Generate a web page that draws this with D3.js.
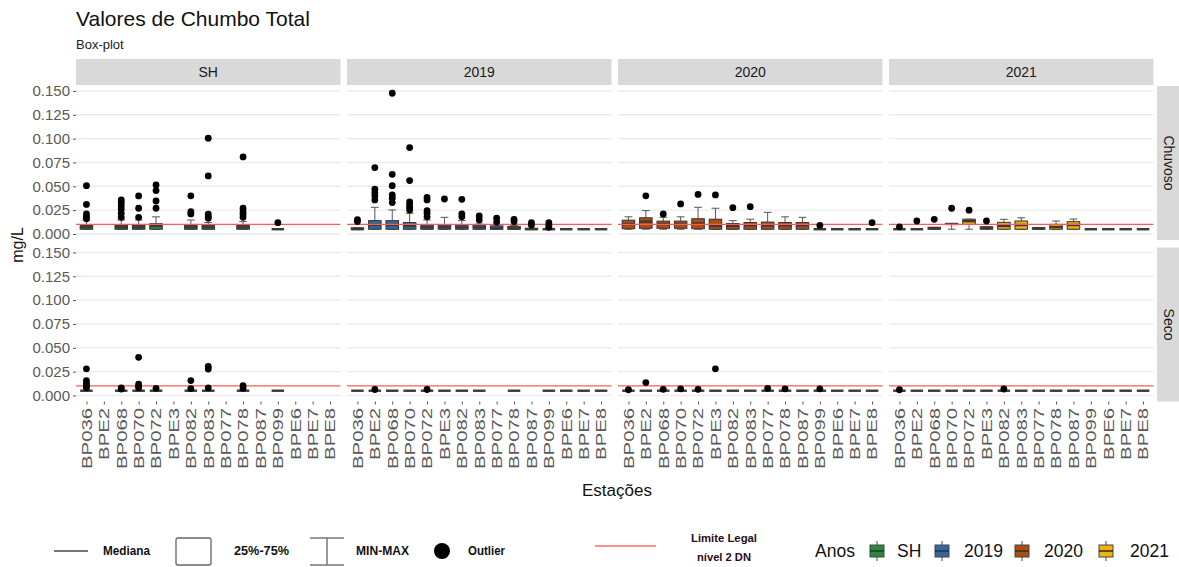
<!DOCTYPE html>
<html>
<head>
<meta charset="utf-8">
<script src="https://cdn.jsdelivr.net/npm/d3@7"></script>
<style>
  body { margin: 0; background: #fff; }
  svg { display: block; font-family: "Liberation Sans", Arial, sans-serif; }
</style>
</head>
<body>
<svg id="chart" width="1179" height="567"></svg>
<script>
// categorias
var stations = ['BP036', 'BPE2', 'BP068', 'BP070', 'BP072', 'BPE3', 'BP082', 'BP083', 'BP077', 'BP078', 'BP087', 'BP099', 'BPE6', 'BPE7', 'BPE8'];
var years = ['SH', '2019', '2020', '2021'];
var seasons = ['Chuvoso', 'Seco'];
var yearColors = ['#2a8a3c', '#2e69a0', '#ad4e0e', '#f0b20c'];
var yTicks = [0, 0.025, 0.05, 0.075, 0.1, 0.125, 0.15];
var limiteLegal = 0.010;

// [min, q1, mediana, q3, max] por estacao (null = sem dados)
var chuvSH = [
  [0.005, 0.005, 0.007, 0.009, 0.0145], null, [0.005, 0.005, 0.007, 0.009, 0.0147], [0.005, 0.005, 0.007, 0.009, 0.0147],
  [0.005, 0.005, 0.0085, 0.0108, 0.018], null, [0.005, 0.005, 0.007, 0.009, 0.0147], [0.005, 0.005, 0.007, 0.009, 0.012],
  null, [0.005, 0.005, 0.007, 0.009, 0.013], null, [0.005, 0.005, 0.005, 0.005, 0.005], null, null, null];
var chuv2019 = [
  [0.005, 0.005, 0.005, 0.0065, 0.0065], [0.005, 0.005, 0.0095, 0.014, 0.028], [0.005, 0.005, 0.0095, 0.014, 0.0252],
  [0.005, 0.005, 0.0085, 0.012, 0.0217], [0.005, 0.005, 0.007, 0.0095, 0.0147], [0.005, 0.005, 0.007, 0.0095, 0.0175],
  [0.005, 0.005, 0.007, 0.0095, 0.014], [0.005, 0.005, 0.007, 0.0095, 0.0105], [0.005, 0.005, 0.006, 0.0085, 0.0095],
  [0.005, 0.005, 0.006, 0.008, 0.009], [0.005, 0.005, 0.005, 0.006, 0.006], [0.005, 0.005, 0.005, 0.005, 0.005],
  [0.005, 0.005, 0.005, 0.005, 0.005], [0.005, 0.005, 0.005, 0.005, 0.005], [0.005, 0.005, 0.005, 0.005, 0.005]];
var chuv2020 = [
  [0.005, 0.0055, 0.0105, 0.0145, 0.018], [0.005, 0.006, 0.013, 0.017, 0.0245], [0.005, 0.006, 0.0105, 0.0135, 0.0175],
  [0.005, 0.006, 0.0105, 0.0135, 0.018], [0.005, 0.0055, 0.011, 0.016, 0.028], [0.005, 0.005, 0.0085, 0.0155, 0.027],
  [0.005, 0.005, 0.0085, 0.011, 0.014], [0.005, 0.005, 0.009, 0.012, 0.0155], [0.005, 0.005, 0.009, 0.0125, 0.0227],
  [0.005, 0.005, 0.009, 0.012, 0.018], [0.005, 0.005, 0.009, 0.012, 0.0175], [0.005, 0.005, 0.005, 0.005, 0.005],
  [0.005, 0.005, 0.005, 0.005, 0.005], [0.005, 0.005, 0.005, 0.005, 0.005], [0.005, 0.005, 0.005, 0.005, 0.005]];
var chuv2021 = [
  [0.005, 0.005, 0.005, 0.005, 0.005], [0.005, 0.005, 0.005, 0.005, 0.005], [0.005, 0.005, 0.006, 0.007, 0.007],
  [0.005, 0.010, 0.0105, 0.011, 0.011], [0.005, 0.010, 0.0135, 0.0155, 0.0155], [0.005, 0.005, 0.0065, 0.0075, 0.0075],
  [0.005, 0.005, 0.0084, 0.0122, 0.0154], [0.005, 0.005, 0.0094, 0.0136, 0.017], [0.005, 0.005, 0.006, 0.0065, 0.0065],
  [0.005, 0.005, 0.0073, 0.0101, 0.0136], [0.005, 0.005, 0.0094, 0.0129, 0.0157], [0.005, 0.005, 0.005, 0.005, 0.005],
  [0.005, 0.005, 0.005, 0.005, 0.005], [0.005, 0.005, 0.005, 0.005, 0.005], [0.005, 0.005, 0.005, 0.005, 0.005]];
var secoSH = [
  [0.005, 0.005, 0.005, 0.005, 0.005], null, [0.005, 0.005, 0.005, 0.005, 0.005], [0.005, 0.005, 0.005, 0.005, 0.005],
  [0.005, 0.005, 0.005, 0.005, 0.005], null, [0.005, 0.005, 0.005, 0.005, 0.005], [0.005, 0.005, 0.005, 0.005, 0.005],
  null, [0.005, 0.005, 0.005, 0.005, 0.005], null, [0.005, 0.005, 0.005, 0.005, 0.005], null, null, null];
var seco2019 = [
  [0.005, 0.005, 0.005, 0.005, 0.005], [0.005, 0.005, 0.005, 0.005, 0.005], [0.005, 0.005, 0.005, 0.005, 0.005],
  [0.005, 0.005, 0.005, 0.005, 0.005], [0.005, 0.005, 0.005, 0.005, 0.005], [0.005, 0.005, 0.005, 0.005, 0.005],
  [0.005, 0.005, 0.005, 0.005, 0.005], [0.005, 0.005, 0.005, 0.005, 0.005], null,
  [0.005, 0.005, 0.005, 0.005, 0.005], null, [0.005, 0.005, 0.005, 0.005, 0.005],
  [0.005, 0.005, 0.005, 0.005, 0.005], [0.005, 0.005, 0.005, 0.005, 0.005], [0.005, 0.005, 0.005, 0.005, 0.005]];
var seco2020 = [
  [0.005, 0.005, 0.005, 0.005, 0.005], [0.005, 0.005, 0.005, 0.005, 0.005], [0.005, 0.005, 0.005, 0.005, 0.005],
  [0.005, 0.005, 0.005, 0.005, 0.005], [0.005, 0.005, 0.005, 0.005, 0.005], [0.005, 0.005, 0.005, 0.005, 0.005],
  [0.005, 0.005, 0.005, 0.005, 0.005], [0.005, 0.005, 0.005, 0.005, 0.005], [0.005, 0.005, 0.005, 0.005, 0.005],
  [0.005, 0.005, 0.005, 0.005, 0.005], [0.005, 0.005, 0.005, 0.005, 0.005], [0.005, 0.005, 0.005, 0.005, 0.005],
  [0.005, 0.005, 0.005, 0.005, 0.005], [0.005, 0.005, 0.005, 0.005, 0.005], [0.005, 0.005, 0.005, 0.005, 0.005]];
var seco2021 = [
  [0.005, 0.005, 0.005, 0.005, 0.005], [0.005, 0.005, 0.005, 0.005, 0.005], [0.005, 0.005, 0.005, 0.005, 0.005],
  [0.005, 0.005, 0.005, 0.005, 0.005], [0.005, 0.005, 0.005, 0.005, 0.005], [0.005, 0.005, 0.005, 0.005, 0.005],
  [0.005, 0.005, 0.005, 0.005, 0.005], [0.005, 0.005, 0.005, 0.005, 0.005], [0.005, 0.005, 0.005, 0.005, 0.005],
  [0.005, 0.005, 0.005, 0.005, 0.005], [0.005, 0.005, 0.005, 0.005, 0.005], [0.005, 0.005, 0.005, 0.005, 0.005],
  [0.005, 0.005, 0.005, 0.005, 0.005], [0.005, 0.005, 0.005, 0.005, 0.005], [0.005, 0.005, 0.005, 0.005, 0.005]];

// outliers por estacao
var outChuvSH = [[0.0507, 0.031, 0.021, 0.018, 0.016], [], [0.0357, 0.0329, 0.0297, 0.0259, 0.0217, 0.0175],
  [0.0399, 0.027, 0.0175], [0.0514, 0.0455, 0.0346, 0.027], [], [0.040, 0.0234, 0.021],
  [0.1004, 0.0609, 0.0207, 0.018, 0.0165], [], [0.0808, 0.027, 0.0234, 0.0207, 0.0175], [], [0.0119], [], [], []];
var outChuv2019 = [[0.015, 0.013], [0.0696, 0.047, 0.0434, 0.040, 0.0357], [0.1476, 0.0626, 0.0507, 0.0409, 0.0375, 0.033],
  [0.0906, 0.056, 0.0336, 0.0304, 0.028, 0.0252], [0.0385, 0.0357, 0.0245, 0.0217, 0.018], [0.0367],
  [0.0364, 0.021, 0.018], [0.0189, 0.0147], [0.0165, 0.0125], [0.0154, 0.013], [0.0119, 0.0095],
  [0.0119, 0.009, 0.007], [], [], []];
var outChuv2020 = [[], [0.040], [0.021], [0.0315], [0.0415], [0.041], [0.0276], [0.0287], [], [], [], [0.009], [], [], [0.0119]];
var outChuv2021 = [[0.0075], [0.0136], [0.0154], [0.027], [0.025], [0.0136], [], [], [], [], [], [], [], [], []];
var outSecoSH = [[0.028, 0.0156, 0.0125, 0.0097, 0.008], [], [0.008, 0.0068], [0.040, 0.012, 0.0097, 0.008], [0.0075], [],
  [0.0156, 0.0073], [0.0305, 0.0278, 0.008], [], [0.0104, 0.0075], [], [], [], [], []];
var outSeco2019 = [[], [0.0063], [], [], [0.0063], [], [], [], [], [], [], [], [], [], []];
var outSeco2020 = [[0.006], [0.0135], [0.0065], [0.007], [0.0065], [0.028], [], [], [0.0075], [0.007], [], [0.007], [], [], []];
var outSeco2021 = [[0.006], [], [], [], [], [], [0.0068], [], [], [], [], [], [], [], []];

var panelStats = { Chuvoso: [chuvSH, chuv2019, chuv2020, chuv2021], Seco: [secoSH, seco2019, seco2020, seco2021] };
var panelOut = { Chuvoso: [outChuvSH, outChuv2019, outChuv2020, outChuv2021], Seco: [outSecoSH, outSeco2019, outSeco2020, outSeco2021] };

var svg = d3.select('#chart');

// layout
var panelLeft = [76, 347, 618, 889];
var panelW = 264.5;
var rowTop = [86, 247.5];
var panelH = 154;

var x = d3.scalePoint().domain(stations).range([0, panelW]).padding(0.6);
var step = x.step();
var boxW = step * 0.72;
var capW = step * 0.45;

// titulo
svg.append('text').attr('x', 76).attr('y', 26).attr('font-size', 21).attr('fill', '#111').text('Valores de Chumbo Total');
svg.append('text').attr('x', 76).attr('y', 49).attr('font-size', 13).attr('fill', '#222').text('Box-plot');

// strips do topo
years.forEach(function (yr, c) {
  svg.append('rect').attr('x', panelLeft[c]).attr('y', 59).attr('width', panelW).attr('height', 26).attr('fill', '#d9d9d9');
  svg.append('text').attr('x', panelLeft[c] + panelW / 2).attr('y', 77).attr('text-anchor', 'middle')
    .attr('font-size', 14).attr('fill', '#1a1a1a').text(yr);
});

seasons.forEach(function (season, r) {
  var top = rowTop[r];
  var y = d3.scaleLinear().domain([-0.0063, 0.1552]).range([top + panelH, top]);

  // strip lateral
  svg.append('rect').attr('x', 1157).attr('y', top).attr('width', 24).attr('height', panelH).attr('fill', '#d9d9d9');
  svg.append('text').attr('transform', 'translate(1164,' + (top + panelH / 2) + ') rotate(90)')
    .attr('text-anchor', 'middle').attr('font-size', 14).attr('fill', '#1a1a1a').text(season);

  // eixo y (so na primeira coluna)
  var yAxis = svg.append('g').attr('transform', 'translate(' + panelLeft[0] + ',0)')
    .call(d3.axisLeft(y).tickValues(yTicks).tickFormat(d3.format('.3f')).tickSize(3).tickPadding(3));
  yAxis.select('.domain').remove();
  yAxis.selectAll('line').attr('stroke', '#555');
  yAxis.selectAll('text').attr('font-size', 15).attr('fill', '#5a5a5a').attr('font-family', '"Liberation Sans", Arial, sans-serif');

  years.forEach(function (yr, c) {
    var g = svg.append('g').attr('transform', 'translate(' + panelLeft[c] + ',0)');
    var stats = panelStats[season][c];
    var outs = panelOut[season][c];

    // grade
    g.selectAll('.grid').data(yTicks).enter().append('line')
      .attr('x1', 0).attr('x2', panelW)
      .attr('y1', function (d) { return y(d); }).attr('y2', function (d) { return y(d); })
      .attr('stroke', '#ebebeb').attr('stroke-width', 1.4);

    var rows = stations.map(function (s, i) { return { st: s, v: stats[i], o: outs[i] }; })
      .filter(function (d) { return d.v; });

    // whiskers
    g.selectAll('.wh').data(rows).enter().append('path')
      .attr('d', function (d) {
        var cx = x(d.st);
        return 'M' + cx + ',' + y(d.v[4]) + 'V' + y(d.v[3]) +
          'M' + cx + ',' + y(d.v[1]) + 'V' + y(d.v[0]) +
          'M' + (cx - capW / 2) + ',' + y(d.v[4]) + 'H' + (cx + capW / 2) +
          'M' + (cx - capW / 2) + ',' + y(d.v[0]) + 'H' + (cx + capW / 2);
      })
      .attr('fill', 'none').attr('stroke', '#555').attr('stroke-width', 1);

    // caixas
    g.selectAll('.bx').data(rows.filter(function (d) { return d.v[3] > d.v[1]; })).enter().append('rect')
      .attr('x', function (d) { return x(d.st) - boxW / 2; })
      .attr('y', function (d) { return y(d.v[3]); })
      .attr('width', boxW)
      .attr('height', function (d) { return y(d.v[1]) - y(d.v[3]); })
      .attr('fill', yearColors[c]).attr('stroke', '#333').attr('stroke-width', 1);

    // mediana
    g.selectAll('.md').data(rows).enter().append('line')
      .attr('x1', function (d) { return x(d.st) - boxW / 2; })
      .attr('x2', function (d) { return x(d.st) + boxW / 2; })
      .attr('y1', function (d) { return y(d.v[2]); })
      .attr('y2', function (d) { return y(d.v[2]); })
      .attr('stroke', '#3a3a3a').attr('stroke-width', 2.4);

    // limite legal
    g.append('line').attr('x1', 0).attr('x2', panelW)
      .attr('y1', y(limiteLegal)).attr('y2', y(limiteLegal))
      .attr('stroke', '#ff5a5a').attr('stroke-width', 1.3);

    // outliers
    var pts = [];
    rows.forEach(function (d) { d.o.forEach(function (v) { pts.push({ st: d.st, v: v }); }); });
    g.selectAll('.pt').data(pts).enter().append('circle')
      .attr('cx', function (d) { return x(d.st); })
      .attr('cy', function (d) { return y(d.v); })
      .attr('r', 3.4).attr('fill', '#000');

    // eixo x (so na linha de baixo)
    if (r === 1) {
      var xAxis = g.append('g').attr('transform', 'translate(0,' + (top + panelH) + ')')
        .call(d3.axisBottom(x).tickSize(3).tickPadding(3));
      xAxis.select('.domain').remove();
      xAxis.selectAll('line').attr('stroke', '#555');
      // rotulos verticais, esticados no comprimento como no original
      xAxis.selectAll('text')
        .attr('transform', 'rotate(-90) scale(1.45,1)')
        .attr('text-anchor', 'end')
        .attr('x', -4.5).attr('y', 0).attr('dy', '0.35em')
        .attr('font-size', 14).attr('fill', '#5a5a5a')
        .attr('font-family', '"Liberation Sans", Arial, sans-serif');
    }
  });
});

// titulos dos eixos
svg.append('text').attr('transform', 'translate(23,245) rotate(-90)').attr('text-anchor', 'middle')
  .attr('font-size', 16).attr('fill', '#111').text('mg/L');
svg.append('text').attr('x', 617).attr('y', 496).attr('text-anchor', 'middle')
  .attr('font-size', 17).attr('fill', '#111').text('Estações');

// legenda
var leg = svg.append('g');
var ly = 551;
leg.append('line').attr('x1', 54).attr('x2', 88).attr('y1', ly).attr('y2', ly).attr('stroke', '#777').attr('stroke-width', 2);
leg.append('text').attr('x', 103).attr('y', ly + 4).attr('font-size', 12).attr('font-weight', 'bold')
  .attr('textLength', 47).attr('lengthAdjust', 'spacingAndGlyphs').attr('fill', '#111').text('Mediana');
leg.append('rect').attr('x', 176).attr('y', ly - 13).attr('width', 35).attr('height', 27).attr('rx', 2)
  .attr('fill', 'none').attr('stroke', '#666').attr('stroke-width', 1.3);
leg.append('text').attr('x', 234).attr('y', ly + 4).attr('font-size', 12).attr('font-weight', 'bold')
  .attr('textLength', 55).attr('lengthAdjust', 'spacingAndGlyphs').attr('fill', '#111').text('25%-75%');
leg.append('path').attr('d', 'M310,' + (ly - 13) + 'H344M327,' + (ly - 13) + 'V' + (ly + 14) + 'M310,' + (ly + 14) + 'H344')
  .attr('fill', 'none').attr('stroke', '#777').attr('stroke-width', 1.5);
leg.append('text').attr('x', 356).attr('y', ly + 4).attr('font-size', 12).attr('font-weight', 'bold')
  .attr('textLength', 53).attr('lengthAdjust', 'spacingAndGlyphs').attr('fill', '#111').text('MIN-MAX');
leg.append('circle').attr('cx', 442).attr('cy', ly).attr('r', 8).attr('fill', '#000');
leg.append('text').attr('x', 468).attr('y', ly + 4).attr('font-size', 12).attr('font-weight', 'bold')
  .attr('textLength', 37).attr('lengthAdjust', 'spacingAndGlyphs').attr('fill', '#111').text('Outlier');
leg.append('line').attr('x1', 595).attr('x2', 656).attr('y1', ly - 5).attr('y2', ly - 5).attr('stroke', '#ff6b6b').attr('stroke-width', 1.5);
leg.append('text').attr('x', 724).attr('y', ly - 9).attr('text-anchor', 'middle').attr('font-size', 11.5).attr('font-weight', 'bold')
  .attr('textLength', 66).attr('lengthAdjust', 'spacingAndGlyphs').attr('fill', '#2a0b16').text('Limite Legal');
leg.append('text').attr('x', 724).attr('y', ly + 10).attr('text-anchor', 'middle').attr('font-size', 11.5).attr('font-weight', 'bold')
  .attr('textLength', 54).attr('lengthAdjust', 'spacingAndGlyphs').attr('fill', '#2a0b16').text('nível 2 DN');

leg.append('text').attr('x', 815).attr('y', ly + 6).attr('font-size', 17.5).attr('fill', '#111').text('Anos');
var keyX = [877, 942, 1022, 1106];
var labX = [897, 964, 1044, 1130];
years.forEach(function (yr, i) {
  var kx = keyX[i];
  leg.append('line').attr('x1', kx).attr('x2', kx).attr('y1', ly - 10).attr('y2', ly + 10).attr('stroke', '#666').attr('stroke-width', 1.2);
  leg.append('rect').attr('x', kx - 7).attr('y', ly - 6).attr('width', 14).attr('height', 12)
    .attr('fill', yearColors[i]).attr('stroke', '#444').attr('stroke-width', 1);
  leg.append('line').attr('x1', kx - 7).attr('x2', kx + 7).attr('y1', ly).attr('y2', ly).attr('stroke', '#333').attr('stroke-width', 1.6);
  leg.append('text').attr('x', labX[i]).attr('y', ly + 6).attr('font-size', 17.5).attr('fill', '#111').text(yr);
});
</script>
</body>
</html>
